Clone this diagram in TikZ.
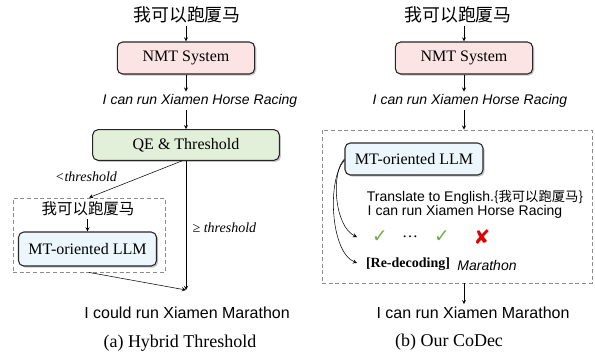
\documentclass[tikz,border=0pt]{standalone}
\usepackage{fontspec}
\setmainfont{Liberation Serif}
\setsansfont{Liberation Sans}
\newfontfamily\cjk{Noto Sans CJK SC}
\newfontfamily\symb{DejaVu Sans}
\usetikzlibrary{shadows}

\definecolor{nmtpink}{HTML}{FCE4E4}
\definecolor{qegreen}{HTML}{E2EFD9}
\definecolor{llmblue}{HTML}{EBF7FC}
\definecolor{okgreen}{HTML}{70AD47}
\definecolor{badred}{HTML}{E00000}

\tikzset{
  sysbox/.style={draw=black!85, line width=0.8pt, rounded corners=4pt,
    minimum height=24pt, inner sep=2pt, font=\fontsize{12}{14}\selectfont,
    drop shadow={shadow xshift=1.2pt, shadow yshift=-1.2pt, fill=black!45}},
  dashbox/.style={draw=black!45, dash pattern=on 3pt off 2pt, line width=0.6pt},
  srctext/.style={inner sep=2pt, font=\cjk\fontsize{13.4}{15}\selectfont},
  hyptext/.style={inner sep=2pt, font=\sffamily\itshape\fontsize{10.5}{12}\selectfont},
  outtext/.style={inner sep=2pt, font=\sffamily\fontsize{12}{14}\selectfont},
  thrtext/.style={inner sep=1pt, font=\itshape\fontsize{10.5}{12}\selectfont},
  subcap/.style={inner sep=1pt, font=\fontsize{13.5}{16}\selectfont},
  midtext/.style={inner sep=1pt, font=\sffamily\fontsize{10.5}{12}\selectfont},
  marktext/.style={inner sep=1pt, font=\symb\fontsize{14}{15}\selectfont}
}

\begin{document}
\begin{tikzpicture}[x=0.75pt,y=-0.75pt,>=stealth]
    \useasboundingbox (0,0) rectangle (595,353);
    % (a) hybrid threshold
    \node[srctext] (srcA) at (187,15) {我可以跑厦马};
    \node[sysbox,fill=nmtpink,minimum width=103pt] (nmtA) at (186,58) {NMT System};
    \node[hyptext] (hypA) at (200,101) {I can run Xiamen Horse Racing};
    \node[sysbox,fill=qegreen,minimum width=140pt,minimum height=23pt] (qe) at (186,145) {QE \& Threshold};
    \node[dashbox,minimum width=114pt,minimum height=55.5pt] (llmA) at (89,235) {};
    \node[srctext,font=\cjk\fontsize{11.6}{13}\selectfont] (srcA2) at (88,209) {我可以跑厦马};
    \node[sysbox,fill=llmblue,minimum width=103.5pt,minimum height=25.5pt] (boxA) at (87.5,249) {MT-oriented LLM};
    \coordinate (mergeA) at (186,290);
    \node[thrtext] (ltA) at (86,177) {<threshold};
    \node[thrtext,anchor=west] (geA) at (191,228) {≥ threshold};
    \node[outtext] (outA) at (187,313) {I could run Xiamen Marathon};
    \node[subcap] (capA) at (180,343) {(a) Hybrid Threshold};
    \draw[->] (nmtA.north |- srcA.south)--(nmtA.north);
    \draw[->] (nmtA.south)--(nmtA.south |- hypA.north);
    \draw[->] (qe.north |- hypA.south)--(qe.north);
    \draw[->] ([xshift=-3pt]qe.south)--(llmA.north);
    \draw[->] (qe.south)--(mergeA);
    \draw[->] (llmA.south)--(mergeA);
    \draw[->] (boxA.north |- srcA2.south)--(boxA.north);
    % (b) our codec
    \node[srctext] (srcB) at (458,15) {我可以跑厦马};
    \node[sysbox,fill=nmtpink,minimum width=103pt] (nmtB) at (464,58) {NMT System};
    \node[hyptext] (hypB) at (470,101) {I can run Xiamen Horse Racing};
    \node[dashbox,minimum width=202.5pt,minimum height=114.75pt] (codec) at (457,206.5) {};
    \node[sysbox,fill=llmblue,minimum width=103.5pt] (llmB) at (414,159) {MT-oriented LLM};
    \node[midtext] (prompt) at (475,197) {Translate to English.{\cjk\fontsize{10}{12}\selectfont\{我可以跑厦马\}}};
    \node[midtext] (hypB2) at (465,212) {I can run Xiamen Horse Racing};
    \node[marktext,text=okgreen] (chk1) at (380,237) {✓};
    \node[inner sep=1pt,font=\fontsize{12}{14}\selectfont] (dots) at (410,237) {\dots};
    \node[marktext,text=okgreen] (chk2) at (442,237) {✓};
    \node[marktext,text=badred,font=\symb\fontsize{15}{16}\selectfont] (cross) at (482,237) {✘};
    \node[inner sep=1pt,font=\bfseries\fontsize{10.5}{12}\selectfont] (redec) at (408,264) {[Re-decoding]};
    \node[hyptext] (mara) at (487,265) {Marathon};
    \coordinate (hookA) at (357,237);
    \coordinate (hookB) at (357,263);
    \node[outtext] (outB) at (473,313) {I can run Xiamen Marathon};
    \node[subcap] (capB) at (449,342) {(b) Our CoDec};
    \draw[->] (nmtB.north |- srcB.south)--(nmtB.north);
    \draw[->] (nmtB.south)--(nmtB.south |- hypB.north);
    \draw[->] (nmtB.south |- hypB.south)--(nmtB.south |- codec.north);
    \draw[->] (llmB.west) .. controls (331,172) and (334,226) .. (hookA);
    \draw[->] ([yshift=-1pt]llmB.west) .. controls (327,178) and (330,252) .. (hookB);
    \draw[->] (nmtB.south |- codec.south)--(nmtB.south |- outB.north);
\end{tikzpicture}
\end{document}
